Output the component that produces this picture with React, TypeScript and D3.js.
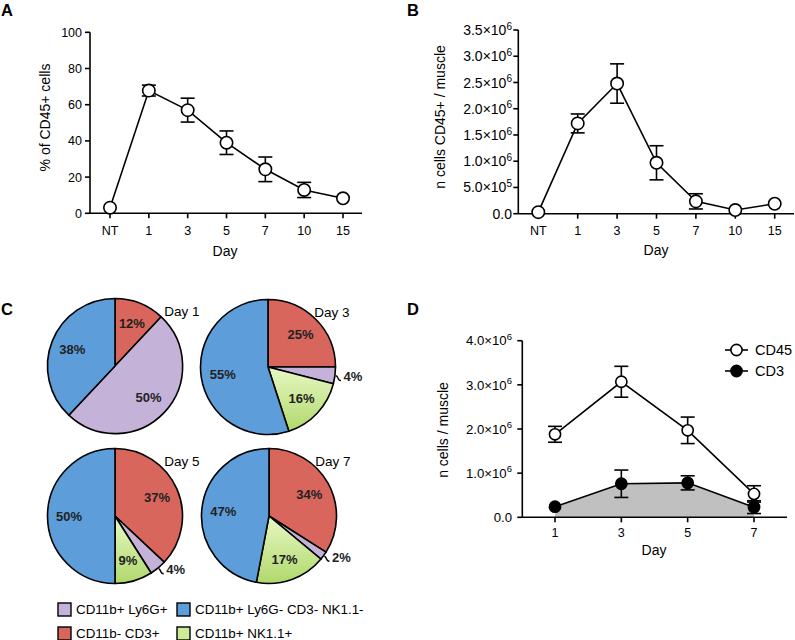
import React from 'react';
import * as d3 from 'd3';

// ---------- Data ----------
const daysAB = ['NT', '1', '3', '5', '7', '10', '15'];
const pctCD45Mean = [3.1, 67.8, 57, 39, 24.3, 12.9, 8.3];
const pctCD45Err = [0, 3, 6.6, 6.5, 6.8, 4.2, 0];

const nCD45Mean = [0.03e6, 1.72e6, 2.48e6, 0.97e6, 0.235e6, 0.07e6, 0.19e6];
const nCD45Err = [0, 0.18e6, 0.375e6, 0.325e6, 0.145e6, 0, 0];

const daysD = ['1', '3', '5', '7'];
const dCD45Mean = [1.88e6, 3.07e6, 1.97e6, 0.53e6];
const dCD45Err = [0.18e6, 0.35e6, 0.3e6, 0.185e6];
const dCD3Mean = [0.24e6, 0.76e6, 0.78e6, 0.23e6];
const dCD3Err = [0, 0.31e6, 0.16e6, 0.145e6];

const pieTitles = ['Day 1', 'Day 3', 'Day 5', 'Day 7'];
const pieCategories = ['CD11b- CD3+', 'CD11b+ Ly6G+', 'CD11b+ NK1.1+', 'CD11b+ Ly6G- CD3- NK1.1-'];
const pieDay1 = [12, 50, 0, 38];
const pieDay3 = [25, 4, 16, 55];
const pieDay5 = [37, 4, 9, 50];
const pieDay7 = [34, 2, 17, 47];

const pctTicks = [0, 20, 40, 60, 80, 100];
const nTicksB = [0, 0.5e6, 1e6, 1.5e6, 2e6, 2.5e6, 3e6, 3.5e6];
const nTicksD = [0, 1e6, 2e6, 3e6, 4e6];

// ---------- Styles ----------
const FONT = 'Liberation Sans, Arial, Helvetica, sans-serif';
const COLORS = ['#d8665c', '#c4b2d8', 'url(#greenGrad)', '#5c9dda'];
const LEGEND_COLORS = ['#d8665c', '#c4b2d8', '#cdec98', '#5c9dda'];
const AXW = 1.6;

function sci(v: number) {
  if (v === 0) return { base: '0.0', exp: '' };
  const e = Math.floor(Math.log10(v));
  const m = v / Math.pow(10, e);
  return { base: m.toFixed(1) + '×10', exp: String(e) };
}

function YTickLabel({ x, y, v, fs }: { x: number; y: number; v: number; fs: number }) {
  const s = sci(v);
  return (
    <text x={x} y={y} dy="0.36em" textAnchor="end" fontSize={fs} fontFamily={FONT}>
      {s.base}
      {s.exp && (
        <tspan fontSize={fs * 0.72} dy={-5.5}>
          {s.exp}
        </tspan>
      )}
    </text>
  );
}

function ErrorBar({ x, y0, y1, w = 7 }: { x: number; y0: number; y1: number; w?: number }) {
  return (
    <g stroke="#000" strokeWidth={1.6} fill="none">
      <line x1={x} x2={x} y1={y0} y2={y1} />
      <line x1={x - w} x2={x + w} y1={y0} y2={y0} />
      <line x1={x - w} x2={x + w} y1={y1} y2={y1} />
    </g>
  );
}

function LinePanel(props: {
  cats: string[];
  xr: [number, number];
  axisX0: number;
  axisX1: number;
  yDomain: [number, number];
  yr: [number, number];
  ticks: number[];
  sciLabels: boolean;
  labelX: number;
  labelFs: number;
  mean: number[];
  err: number[];
  yTitle: string;
  yTitleX: number;
  yTitleY: number;
  tickLabelY: number;
  dayX: number;
  dayY: number;
}) {
  const x = d3.scalePoint<string>().domain(props.cats).range(props.xr);
  const y = d3.scaleLinear().domain(props.yDomain).range(props.yr);
  const line = d3
    .line<number>()
    .x((_, i) => x(props.cats[i])!)
    .y((d) => y(d));
  return (
    <g fontFamily={FONT}>
      <line x1={props.axisX0} x2={props.axisX0} y1={props.yr[1]} y2={props.yr[0]} stroke="#000" strokeWidth={AXW} />
      <line x1={props.axisX0} x2={props.axisX1} y1={props.yr[0]} y2={props.yr[0]} stroke="#000" strokeWidth={AXW} />
      {props.ticks.map((t) => (
        <g key={t}>
          <line x1={props.axisX0 - 5} x2={props.axisX0} y1={y(t)} y2={y(t)} stroke="#000" strokeWidth={AXW} />
          {props.sciLabels ? (
            <YTickLabel x={props.labelX} y={y(t)} v={t} fs={props.labelFs} />
          ) : (
            <text x={props.labelX} y={y(t)} dy="0.36em" textAnchor="end" fontSize={props.labelFs}>
              {t}
            </text>
          )}
        </g>
      ))}
      {props.cats.map((c) => (
        <g key={c}>
          <line x1={x(c)} x2={x(c)} y1={props.yr[0]} y2={props.yr[0] + 5} stroke="#000" strokeWidth={AXW} />
          <text x={x(c)} y={props.tickLabelY} textAnchor="middle" fontSize={12.5}>
            {c}
          </text>
        </g>
      ))}
      <text x={props.dayX} y={props.dayY} textAnchor="middle" fontSize={14}>
        Day
      </text>
      <text
        transform={`translate(${props.yTitleX},${props.yTitleY}) rotate(-90)`}
        textAnchor="middle"
        dy="0.35em"
        fontSize={14}
      >
        {props.yTitle}
      </text>
      <path d={line(props.mean)!} fill="none" stroke="#000" strokeWidth={1.6} />
      {props.mean.map((m, i) =>
        props.err[i] > 0 ? (
          <ErrorBar key={i} x={x(props.cats[i])!} y0={y(m + props.err[i])} y1={y(m - props.err[i])} />
        ) : null
      )}
      {props.mean.map((m, i) => (
        <circle key={i} cx={x(props.cats[i])} cy={y(m)} r={6.2} fill="#fff" stroke="#000" strokeWidth={1.6} />
      ))}
    </g>
  );
}

function Pie({ values, cx, cy, r, title, titleX, titleY }: any) {
  const pie = d3
    .pie<number>()
    .sort(null)
    .value((d) => d)
    .startAngle(0)
    .endAngle(2 * Math.PI);
  const arcs = pie(values);
  const arc = d3.arc<d3.PieArcDatum<number>>().innerRadius(0).outerRadius(r);
  const labelArc = d3.arc<d3.PieArcDatum<number>>().innerRadius(r * 0.68).outerRadius(r * 0.68);
  return (
    <g transform={`translate(${cx},${cy})`} fontFamily={FONT}>
      {arcs.map((a, i) =>
        a.data > 0 ? (
          <path key={i} d={arc(a)!} fill={COLORS[i]} stroke="#000" strokeWidth={1.6} strokeLinejoin="round" />
        ) : null
      )}
      {arcs.map((a, i) => {
        if (a.data <= 0) return null;
        const mid = (a.startAngle + a.endAngle) / 2;
        if (a.data < 5) {
          const ox = Math.sin(mid) * (r + 1);
          const oy = -Math.cos(mid) * (r + 1);
          const lx = ox + 17;
          const ly = oy + 1;
          return (
            <g key={'l' + i}>
              <path
                d={`M${ox},${oy} C${ox + 3},${oy + 1} ${ox + 1},${oy + 5} ${ox + 5},${oy + 5}`}
                fill="none"
                stroke="#000"
                strokeWidth={1.4}
              />
              <text x={lx} y={ly} dy="0.36em" textAnchor="middle" fontSize={13} fontWeight="bold" fill="#222">
                {a.data}%
              </text>
            </g>
          );
        }
        const [lx, ly] = labelArc.centroid(a);
        return (
          <text key={'l' + i} x={lx} y={ly} dy="0.36em" textAnchor="middle" fontSize={13} fontWeight="bold" fill="#222">
            {a.data}%
          </text>
        );
      })}
      <text x={titleX} y={titleY} textAnchor="middle" fontSize={13.5}>
        {title}
      </text>
    </g>
  );
}

export default function App() {
  const xD = d3.scalePoint<string>().domain(daysD).range([555, 754]);
  const yD = d3.scaleLinear().domain([0, 4e6]).range([517.3, 340.7]);
  const lineD = d3
    .line<number>()
    .x((_, i) => xD(daysD[i])!)
    .y((d) => yD(d));
  const areaCD3 = d3
    .area<number>()
    .x((_, i) => xD(daysD[i])!)
    .y0(yD(0))
    .y1((d) => yD(d));

  const pieData = [pieDay1, pieDay3, pieDay5, pieDay7];
  const pieCenters = [
    [115, 366],
    [268, 367],
    [115, 516],
    [269, 516],
  ];
  const legendOrder = [1, 3, 0, 2];
  const legendPos = [
    [58, 603],
    [177, 603],
    [58, 627],
    [177, 627],
  ];

  return (
    <svg
      width={795}
      height={640}
      style={{ position: 'absolute', left: 0, top: 0, background: '#fff' }}
      fontFamily={FONT}
    >
      <defs>
        <linearGradient id="greenGrad" x1="0" y1="0" x2="0" y2="1">
          <stop offset="0" stopColor="#e8f8c4" />
          <stop offset="1" stopColor="#b0d86c" />
        </linearGradient>
      </defs>
      <rect width={795} height={640} fill="#fff" />

      <text x={1} y={15.5} fontSize={16.5} fontWeight="bold">A</text>
      <text x={407} y={15.5} fontSize={16.5} fontWeight="bold">B</text>
      <text x={1} y={314.5} fontSize={16.5} fontWeight="bold">C</text>
      <text x={407} y={314.5} fontSize={16.5} fontWeight="bold">D</text>

      {/* Panel A */}
      <LinePanel
        cats={daysAB}
        xr={[110, 343]}
        axisX0={90}
        axisX1={362}
        yDomain={[0, 100]}
        yr={[213.3, 32.3]}
        ticks={pctTicks}
        sciLabels={false}
        labelX={82}
        labelFs={12.5}
        mean={pctCD45Mean}
        err={pctCD45Err}
        yTitle="% of  CD45+ cells"
        yTitleX={45}
        yTitleY={117.5}
        tickLabelY={235}
        dayX={225}
        dayY={256}
      />

      {/* Panel B */}
      <LinePanel
        cats={daysAB}
        xr={[538.3, 774.7]}
        axisX0={518.3}
        axisX1={794}
        yDomain={[0, 3.5e6]}
        yr={[213.7, 30]}
        ticks={nTicksB}
        sciLabels={true}
        labelX={512}
        labelFs={14}
        mean={nCD45Mean}
        err={nCD45Err}
        yTitle="n cells CD45+ / muscle"
        yTitleX={440}
        yTitleY={117}
        tickLabelY={235}
        dayX={656}
        dayY={255}
      />

      {/* Panel C */}
      {pieData.map((vals, i) => (
        <Pie
          key={i}
          values={vals}
          cx={pieCenters[i][0]}
          cy={pieCenters[i][1]}
          r={67.5}
          title={pieTitles[i]}
          titleX={i % 2 === 0 ? 67 : 64}
          titleY={-50}
        />
      ))}
      {legendOrder.map((ci, k) => (
        <g key={ci}>
          <rect
            x={legendPos[k][0]}
            y={legendPos[k][1]}
            width={13}
            height={13}
            fill={LEGEND_COLORS[ci]}
            stroke="#000"
            strokeWidth={1.4}
          />
          <text x={legendPos[k][0] + 18} y={legendPos[k][1] + 6.5} dy="0.36em" fontSize={13.4}>
            {pieCategories[ci]}
          </text>
        </g>
      ))}

      {/* Panel D */}
      <g fontFamily={FONT}>
        <path d={areaCD3(dCD3Mean)!} fill="#c0c0c0" stroke="none" />
        <line x1={522.3} x2={522.3} y1={340.7} y2={517.3} stroke="#000" strokeWidth={AXW} />
        <line x1={522.3} x2={787} y1={517.3} y2={517.3} stroke="#000" strokeWidth={AXW} />
        {nTicksD.map((t) => (
          <g key={t}>
            <line x1={517.3} x2={522.3} y1={yD(t)} y2={yD(t)} stroke="#000" strokeWidth={AXW} />
            <YTickLabel x={512} y={yD(t)} v={t} fs={13.2} />
          </g>
        ))}
        {daysD.map((c) => (
          <g key={c}>
            <line x1={xD(c)} x2={xD(c)} y1={517.3} y2={522.3} stroke="#000" strokeWidth={AXW} />
            <text x={xD(c)} y={537} textAnchor="middle" fontSize={12.5}>
              {c}
            </text>
          </g>
        ))}
        <text x={654} y={555} textAnchor="middle" fontSize={14}>
          Day
        </text>
        <text transform="translate(443,430) rotate(-90)" textAnchor="middle" dy="0.35em" fontSize={14}>
          n cells / muscle
        </text>
        <path d={lineD(dCD3Mean)!} fill="none" stroke="#000" strokeWidth={1.6} />
        <path d={lineD(dCD45Mean)!} fill="none" stroke="#000" strokeWidth={1.6} />
        {dCD45Mean.map((m, i) =>
          dCD45Err[i] > 0 ? (
            <ErrorBar key={'e45' + i} x={xD(daysD[i])!} y0={yD(m + dCD45Err[i])} y1={yD(m - dCD45Err[i])} />
          ) : null
        )}
        {dCD3Mean.map((m, i) =>
          dCD3Err[i] > 0 ? (
            <ErrorBar key={'e3' + i} x={xD(daysD[i])!} y0={yD(m + dCD3Err[i])} y1={yD(m - dCD3Err[i])} />
          ) : null
        )}
        {dCD45Mean.map((m, i) => (
          <circle key={'c45' + i} cx={xD(daysD[i])} cy={yD(m)} r={5.6} fill="#fff" stroke="#000" strokeWidth={1.6} />
        ))}
        {dCD3Mean.map((m, i) => (
          <circle key={'c3' + i} cx={xD(daysD[i])} cy={yD(m)} r={5.6} fill="#000" stroke="#000" strokeWidth={1.6} />
        ))}
        <line x1={725} x2={748} y1={350} y2={350} stroke="#000" strokeWidth={1.6} />
        <circle cx={736.5} cy={350} r={5.6} fill="#fff" stroke="#000" strokeWidth={1.6} />
        <text x={755} y={350} dy="0.36em" fontSize={14.5}>CD45</text>
        <line x1={725} x2={748} y1={371} y2={371} stroke="#000" strokeWidth={1.6} />
        <circle cx={736.5} cy={371} r={5.6} fill="#000" stroke="#000" strokeWidth={1.6} />
        <text x={755} y={371} dy="0.36em" fontSize={14.5}>CD3</text>
      </g>
    </svg>
  );
}
